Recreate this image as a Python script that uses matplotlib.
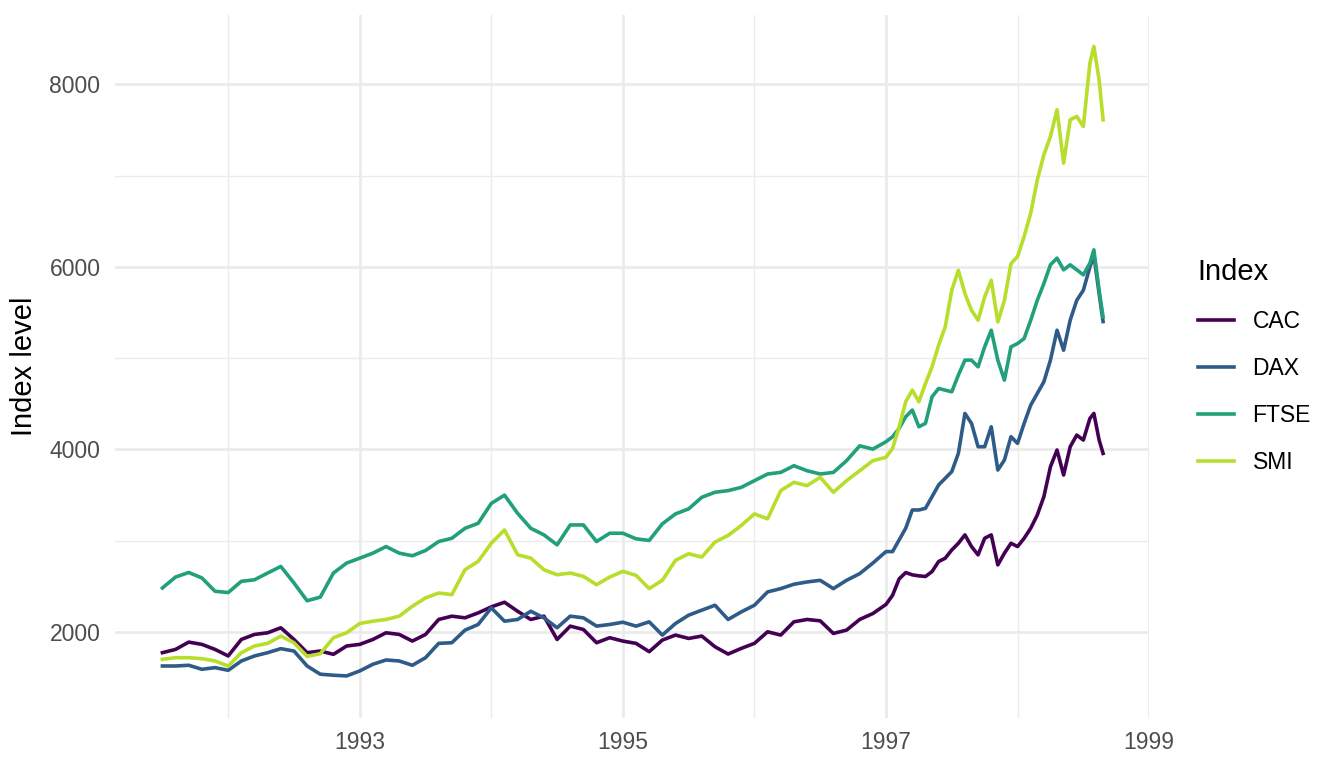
import matplotlib.pyplot as plt

# time axis (decimal years)
years = [
    1991.5, 1991.6, 1991.7, 1991.8, 1991.9,
    1992.0, 1992.1, 1992.2, 1992.3, 1992.4, 1992.5, 1992.6, 1992.7, 1992.8, 1992.9,
    1993.0, 1993.1, 1993.2, 1993.3, 1993.4, 1993.5, 1993.6, 1993.7, 1993.8, 1993.9,
    1994.0, 1994.1, 1994.2, 1994.3, 1994.4, 1994.5, 1994.6, 1994.7, 1994.8, 1994.9,
    1995.0, 1995.1, 1995.2, 1995.3, 1995.4, 1995.5, 1995.6, 1995.7, 1995.8, 1995.9,
    1996.0, 1996.1, 1996.2, 1996.3, 1996.4, 1996.5, 1996.6, 1996.7, 1996.8, 1996.9,
    1997.0, 1997.05, 1997.1, 1997.15, 1997.2, 1997.25, 1997.3, 1997.35, 1997.4, 1997.45,
    1997.5, 1997.55, 1997.6, 1997.65, 1997.7, 1997.75, 1997.8, 1997.85, 1997.9, 1997.95,
    1998.0, 1998.05, 1998.1, 1998.15, 1998.2, 1998.25, 1998.3, 1998.35, 1998.4, 1998.45,
    1998.5, 1998.55, 1998.58, 1998.62, 1998.65,
]

cac = [
    1771, 1807, 1887, 1862, 1807,
    1735, 1916, 1971, 1989, 2044, 1916, 1771, 1789, 1753, 1844,
    1862, 1916, 1989, 1971, 1898, 1971, 2135, 2171, 2153, 2207,
    2273, 2324, 2225, 2135, 2171, 1916, 2062, 2025, 1880, 1935,
    1898, 1873, 1782, 1909, 1964, 1927, 1953, 1836, 1756, 1818,
    1873, 2000, 1964, 2109, 2135, 2120, 1982, 2018, 2135, 2200,
    2300, 2400, 2580, 2649, 2624, 2613, 2606, 2660, 2770, 2806,
    2897, 2970, 3062, 2934, 2843, 3025, 3062, 2733, 2861, 2970,
    2934, 3025, 3135, 3280, 3481, 3809, 3992, 3718, 4028, 4156,
    4101, 4338, 4393, 4101, 3955,
]

dax = [
    1625, 1625, 1633, 1589, 1607,
    1578, 1680, 1735, 1771, 1815, 1789, 1625, 1535, 1524, 1516,
    1571, 1644, 1691, 1680, 1633, 1716, 1873, 1880, 2018, 2080,
    2262, 2116, 2135, 2225, 2153, 2044, 2171, 2153, 2062, 2080,
    2105, 2062, 2109, 1964, 2091, 2182, 2237, 2291, 2135, 2218,
    2291, 2437, 2473, 2521, 2546, 2564, 2473, 2564, 2637, 2753,
    2879, 2879, 3007, 3135, 3335, 3335, 3353, 3481, 3609, 3682,
    3755, 3955, 4393, 4284, 4028, 4028, 4247, 3773, 3882, 4138,
    4065, 4284, 4484, 4612, 4740, 4977, 5305, 5086, 5415, 5633,
    5743, 5998, 6126, 5706, 5400,
]

ftse = [
    2480, 2600, 2650, 2590, 2444,
    2430, 2553, 2570, 2644, 2716, 2535, 2340, 2380, 2644, 2753,
    2807, 2862, 2934, 2862, 2833, 2891, 2989, 3025, 3134, 3189,
    3407, 3498, 3298, 3134, 3062, 2953, 3171, 3171, 2989, 3080,
    3080, 3019, 3001, 3183, 3292, 3347, 3474, 3529, 3547, 3583,
    3656, 3729, 3747, 3820, 3765, 3729, 3747, 3875, 4038, 4002,
    4083, 4138, 4229, 4357, 4430, 4247, 4284, 4575, 4667, 4648,
    4630, 4813, 4977, 4977, 4904, 5123, 5305, 4977, 4758, 5123,
    5159, 5214, 5415, 5633, 5816, 6022, 6095, 5967, 6022, 5967,
    5912, 6040, 6186, 5743, 5451,
]

smi = [
    1698, 1716, 1716, 1705, 1680,
    1625, 1771, 1844, 1873, 1953, 1880, 1730, 1760, 1935, 1989,
    2091, 2116, 2135, 2171, 2280, 2371, 2425, 2407, 2680, 2771,
    2971, 3116, 2844, 2807, 2680, 2625, 2644, 2607, 2516, 2600,
    2662, 2619, 2473, 2564, 2783, 2855, 2819, 2983, 3056, 3165,
    3292, 3238, 3547, 3638, 3602, 3693, 3529, 3656, 3765, 3875,
    3912, 4010, 4247, 4521, 4648, 4521, 4721, 4904, 5141, 5342,
    5743, 5962, 5706, 5524, 5415, 5670, 5852, 5396, 5633, 6035,
    6113, 6332, 6588, 6953, 7227, 7428, 7721, 7136, 7611, 7648,
    7538, 8232, 8415, 8049, 7611,
]

names = ['CAC', 'DAX', 'FTSE', 'SMI']
colors = ['#440154', '#2F5B88', '#21A07B', '#B6DE2B']

plt.rcParams['font.family'] = ['Liberation Sans', 'DejaVu Sans']

fig = plt.figure(figsize=(13.44, 7.68), dpi=100)
ax = fig.add_axes([0.0856, 0.0645, 0.855 - 0.0856, 0.9805 - 0.0645])

for name, vals, col in zip(names, [cac, dax, ftse, smi], colors):
    ax.plot(years, vals, color=col, lw=2.6, label=name, solid_joinstyle='round')

ax.set_xlim(1991.14, 1999.0)
ax.set_ylim(1050, 8760)
ax.set_xticks([1993, 1995, 1997, 1999])
ax.set_xticks([1992, 1994, 1996, 1998], minor=True)
ax.set_yticks([2000, 4000, 6000, 8000])
ax.set_yticks([3000, 5000, 7000], minor=True)
ax.grid(which='major', color='#EBEBEB', lw=2.0)
ax.grid(which='minor', color='#EBEBEB', lw=1.0)
ax.set_axisbelow(True)
for s in ax.spines.values():
    s.set_visible(False)
ax.tick_params(which='both', length=0, labelsize=16.5, labelcolor='#4D4D4D')
ax.tick_params(axis='y', pad=10.5)
ax.tick_params(axis='x', pad=9)
ax.set_ylabel('Index level', fontsize=21, labelpad=8)

leg = fig.legend(loc='upper left', bbox_to_anchor=(1177 / 1344, 1 - 237 / 768),
                 frameon=False, title='Index', fontsize=16.5, title_fontsize=21,
                 handlelength=1.6, handletextpad=0.8, labelspacing=1.05)
leg._legend_box.align = 'left'
for line in leg.get_lines():
    line.set_linewidth(2.6)

plt.savefig('out.png', dpi=100)
